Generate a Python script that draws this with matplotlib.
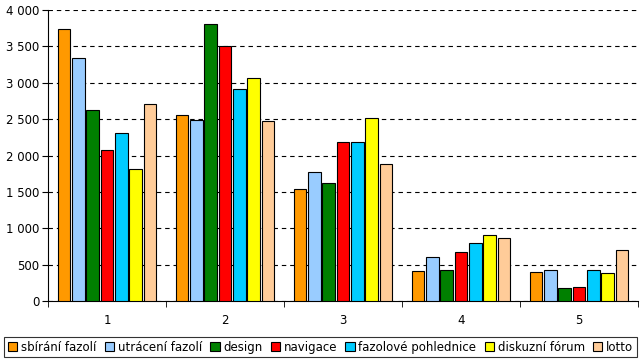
import numpy as np
import matplotlib
matplotlib.use("Agg")
import matplotlib.pyplot as plt
from matplotlib.ticker import FuncFormatter

categories = ["1", "2", "3", "4", "5"]
series_names = ["sbírání fazolí", "utrácení fazolí", "design", "navigace",
                "fazolové pohlednice", "diskuzní fórum", "lotto"]
series_colors = ["#FF9900", "#99CCFF", "#008000", "#FF0000",
                 "#00CCFF", "#FFFF00", "#FFCC99"]
sbirani = [3740, 2560, 1540, 410, 395]
utraceni = [3340, 2490, 1770, 600, 422]
design = [2620, 3810, 1620, 422, 174]
navigace = [2080, 3510, 2190, 669, 188]
pohlednice = [2310, 2920, 2190, 793, 422]
forum = [1810, 3060, 2510, 903, 380]
lotto = [2710, 2480, 1890, 862, 697]
values = [sbirani, utraceni, design, navigace, pohlednice, forum, lotto]

fig = plt.figure(figsize=(6.41, 3.63), dpi=100)
ax = fig.add_axes([48 / 641, 1 - 301 / 363, 590 / 641, 291 / 363])

x = np.arange(len(categories))
pitch = 0.121
width = 0.106
for i, (name, vals, col) in enumerate(zip(series_names, values, series_colors)):
    ax.bar(x + (i - 3) * pitch, vals, width, color=col, edgecolor="black",
           linewidth=0.8, label=name, zorder=3)

ax.set_xlim(-0.5, len(categories) - 0.5)
ax.set_ylim(0, 4000)
ax.set_yticks(range(0, 4001, 500))
ax.yaxis.set_major_formatter(FuncFormatter(lambda v, p: f"{int(v):,}".replace(",", " ")))
ax.set_xticks(x)
ax.set_xticklabels(categories)
ax.set_xticks(np.arange(-0.5, len(categories), 1), minor=True)
ax.tick_params(axis="x", which="major", length=0, pad=9, labelsize=8.5)
ax.tick_params(axis="x", which="minor", length=4, direction="out", color="black")
ax.tick_params(axis="y", length=4, direction="out", labelsize=8.5, pad=2)
ax.grid(axis="y", color="black", linestyle=(0, (4, 3.5)), linewidth=0.8, zorder=0)
ax.spines["top"].set_visible(False)
ax.spines["right"].set_visible(False)

leg = fig.legend(loc="lower center", bbox_to_anchor=(0.5, 0.0), ncol=7,
                 fontsize=8.5, frameon=True, fancybox=False, edgecolor="black",
                 handlelength=0.8, handleheight=0.8, handletextpad=0.3,
                 columnspacing=0.7, borderpad=0.3)
leg.get_frame().set_linewidth(0.8)

fig.savefig("out.png", dpi=100)
